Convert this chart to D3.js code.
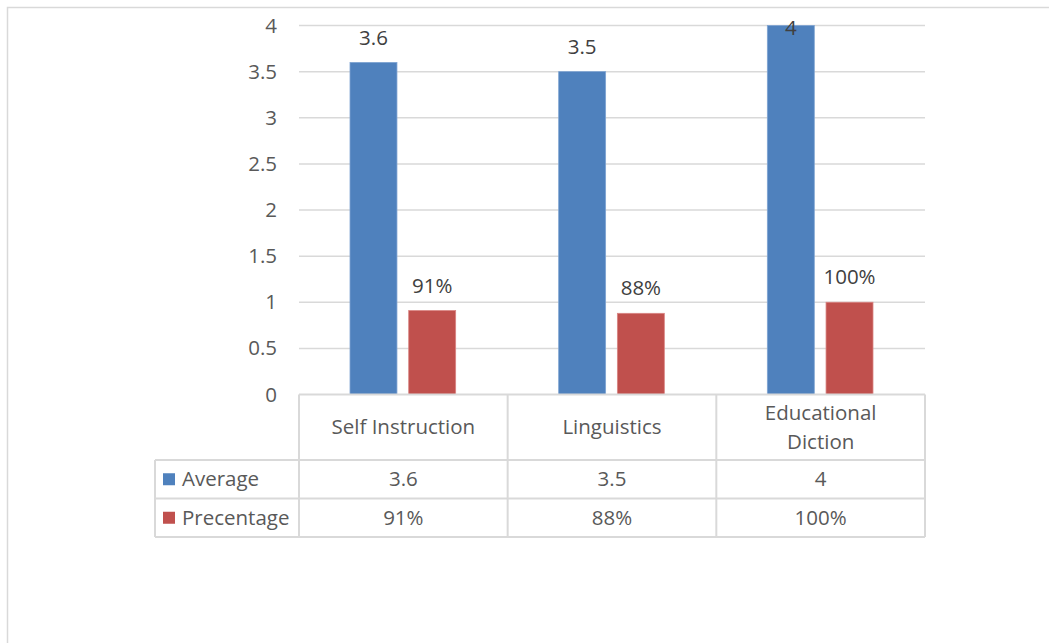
<!DOCTYPE html>
<html>
<head>
<meta charset="utf-8">
<script src="https://cdn.jsdelivr.net/npm/d3@7"></script>
<style>
  html, body { margin: 0; padding: 0; background: #fff; }
  svg { display: block; font-family: "Open Sans", sans-serif; }
</style>
</head>
<body>
<svg id="chart" width="1049" height="643"></svg>
<script>
// Chart data
const categories = ["Self Instruction", "Linguistics", "Educational Diction"];
const categoryLines = [["Self Instruction"], ["Linguistics"], ["Educational", "Diction"]];
const seriesNames = ["Average", "Precentage"];
const averageValues = [3.6, 3.5, 4];
const percentageValues = [0.91, 0.88, 1.0];
const averageLabels = ["3.6", "3.5", "4"];
const percentageLabels = ["91%", "88%", "100%"];
const yTicks = [0, 0.5, 1, 1.5, 2, 2.5, 3, 3.5, 4];
const colors = ["#4f81bd", "#c0504d"];
const edgeColors = ["#7fa4d2", "#d98583"];

const FS = "20.5px";
const svg = d3.select("#chart");

// Outer chart frame (only top/left edges fall inside the page)
svg.append("rect")
  .attr("x", 7.5).attr("y", 7.5)
  .attr("width", 1200).attr("height", 800)
  .attr("fill", "none").attr("stroke", "#d9d9d9").attr("stroke-width", 1.5);

const plot = { left: 299, right: 925, top: 25.5, bottom: 394.5 };

const x = d3.scaleBand().domain(categories).range([plot.left, plot.right]).paddingInner(0).paddingOuter(0);
const y = d3.scaleLinear().domain([0, 4]).range([plot.bottom, plot.top]);

// Inner grouping for the two series inside each category
const x1 = d3.scaleBand().domain(seriesNames).range([51, x.bandwidth() - 52]).paddingInner(0.2);

// Gridlines
svg.append("g").selectAll("line").data(yTicks.filter(t => t > 0)).join("line")
  .attr("x1", plot.left).attr("x2", plot.right)
  .attr("y1", d => y(d)).attr("y2", d => y(d))
  .attr("stroke", "#d9d9d9").attr("stroke-width", 1.5);

// Y axis labels
const yAxis = d3.axisLeft(y).tickValues(yTicks).tickSize(0).tickPadding(0).tickFormat(d3.format("~g"));
const yg = svg.append("g").attr("transform", "translate(277,0)").call(yAxis);
yg.select(".domain").remove();
yg.selectAll("text").attr("fill", "#595959").style("font-size", FS).style("font-family", "'Open Sans', sans-serif");

// Bars
const seriesData = [averageValues, percentageValues];
const seriesLabels = [averageLabels, percentageLabels];
seriesNames.forEach((s, si) => {
  const g = svg.append("g");
  g.selectAll("rect").data(categories).join("rect")
    .attr("x", c => x(c) + x1(s))
    .attr("width", x1.bandwidth())
    .attr("y", (c, i) => y(seriesData[si][i]))
    .attr("height", (c, i) => y(0) - y(seriesData[si][i]))
    .attr("fill", colors[si])
    .attr("stroke", edgeColors[si]).attr("stroke-width", 0.8);
  g.selectAll("text").data(categories).join("text")
    .attr("x", c => x(c) + x1(s) + x1.bandwidth() / 2)
    .attr("y", (c, i) => Math.max(y(seriesData[si][i]) - 25, 28))
    .attr("dy", "0.35em")
    .attr("text-anchor", "middle")
    .attr("fill", "#404040")
    .style("font-size", FS)
    .text((c, i) => seriesLabels[si][i]);
});

// Data table under the plot
const tbl = { left: 155, top: 394.5, headerBottom: 460, row1Bottom: 498.5, row2Bottom: 537 };
const lineColor = "#d9d9d9";
const tg = svg.append("g").attr("stroke", lineColor).attr("stroke-width", 2);
// horizontal lines
tg.append("line").attr("x1", plot.left).attr("x2", plot.right).attr("y1", tbl.top).attr("y2", tbl.top);
[tbl.headerBottom, tbl.row1Bottom, tbl.row2Bottom].forEach(yy =>
  tg.append("line").attr("x1", tbl.left).attr("x2", plot.right).attr("y1", yy).attr("y2", yy));
// vertical lines
tg.append("line").attr("x1", tbl.left).attr("x2", tbl.left).attr("y1", tbl.headerBottom).attr("y2", tbl.row2Bottom);
const colEdges = [plot.left, ...categories.slice(1).map(c => x(c)), plot.right];
colEdges.forEach(xx =>
  tg.append("line").attr("x1", xx).attr("x2", xx).attr("y1", tbl.top).attr("y2", tbl.row2Bottom));

// Header cells (category names)
categories.forEach((c, i) => {
  const lines = categoryLines[i];
  const cy = (tbl.top + tbl.headerBottom) / 2;
  const lh = 29;
  lines.forEach((ln, j) => {
    svg.append("text")
      .attr("x", x(c) + x.bandwidth() / 2)
      .attr("y", cy + (j - (lines.length - 1) / 2) * lh)
      .attr("dy", "0.35em")
      .attr("text-anchor", "middle")
      .attr("fill", "#595959")
      .style("font-size", FS)
      .text(ln);
  });
});

// Value rows with legend keys
const rowCenters = [(tbl.headerBottom + tbl.row1Bottom) / 2, (tbl.row1Bottom + tbl.row2Bottom) / 2];
seriesNames.forEach((s, si) => {
  const cy = rowCenters[si];
  svg.append("rect").attr("x", 163).attr("y", cy - 6).attr("width", 12).attr("height", 12).attr("fill", colors[si]);
  svg.append("text").attr("x", 182).attr("y", cy).attr("dy", "0.35em")
    .attr("fill", "#595959").style("font-size", FS).text(s);
  categories.forEach((c, i) => {
    svg.append("text")
      .attr("x", x(c) + x.bandwidth() / 2).attr("y", cy).attr("dy", "0.35em")
      .attr("text-anchor", "middle").attr("fill", "#595959")
      .style("font-size", FS).text(seriesLabels[si][i]);
  });
});
</script>
</body>
</html>
